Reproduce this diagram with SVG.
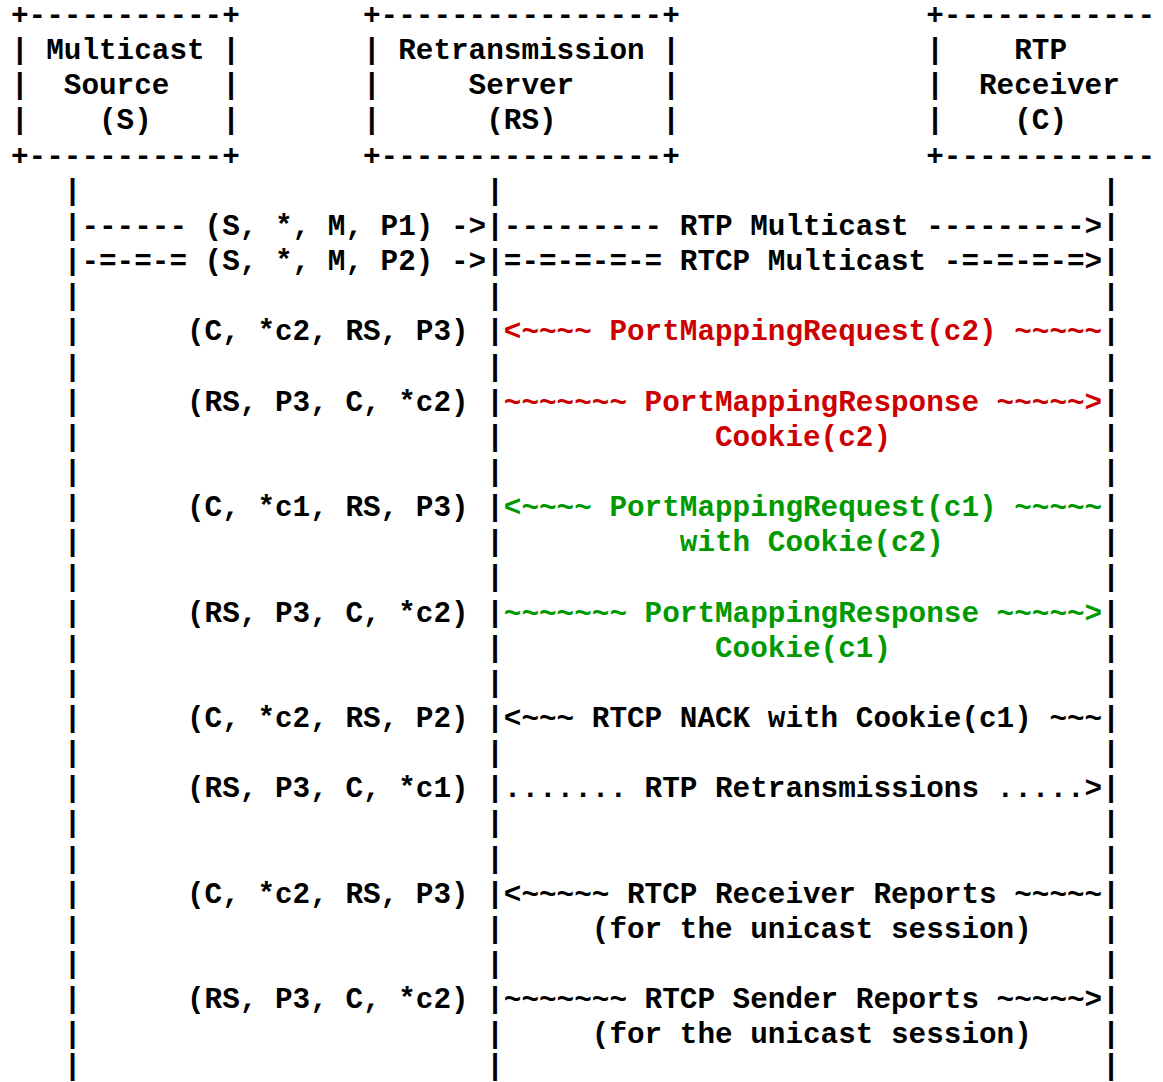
<svg xmlns="http://www.w3.org/2000/svg" width="1163" height="1082" viewBox="0 0 1163 1082">
<style>
text { font-family: "Liberation Mono", "Courier New", monospace; font-size: 29.33px; font-weight: bold; fill: #000; white-space: pre; }
.red { fill: #cc0000; }
.green { fill: #009900; }
</style>
<rect width="1163" height="1082" fill="#fff"/>
<g id="node-source">
<text x="11" y="24">+-----------+</text>
<text x="11" y="59.15">| Multicast |</text>
<text x="11" y="94.3">|  Source   |</text>
<text x="11" y="129.45">|    (S)    |</text>
<text x="11" y="164.6">+-----------+</text>
</g>
<g id="node-rs">
<text x="363" y="24">+----------------+</text>
<text x="363" y="59.15">| Retransmission |</text>
<text x="363" y="94.3">|     Server     |</text>
<text x="363" y="129.45">|      (RS)      |</text>
<text x="363" y="164.6">+----------------+</text>
</g>
<g id="node-receiver">
<text x="926.2" y="24">+------------</text>
<text x="926.2" y="59.15">|    RTP</text>
<text x="926.2" y="94.3">|  Receiver</text>
<text x="926.2" y="129.45">|    (C)</text>
<text x="926.2" y="164.6">+------------</text>
</g>
<g id="connectors">
<text x="63.8" y="199.75">|                       |                                  |</text>
<text x="63.8" y="234.9">|------ (S, *, M, P1) -&gt;|--------- RTP Multicast ---------&gt;|</text>
<text x="63.8" y="270.05">|-=-=-= (S, *, M, P2) -&gt;|=-=-=-=-= RTCP Multicast -=-=-=-=&gt;|</text>
<text x="63.8" y="305.2">|                       |                                  |</text>
<text x="63.8" y="340.35">|      (C, *c2, RS, P3) |<tspan class="red">&lt;~~~~ PortMappingRequest(c2) ~~~~~</tspan>|</text>
<text x="63.8" y="375.5">|                       |                                  |</text>
<text x="63.8" y="410.65">|      (RS, P3, C, *c2) |<tspan class="red">~~~~~~~ PortMappingResponse ~~~~~&gt;</tspan>|</text>
<text x="63.8" y="445.8">|                       |            <tspan class="red">Cookie(c2)</tspan>            |</text>
<text x="63.8" y="480.95">|                       |                                  |</text>
<text x="63.8" y="516.1">|      (C, *c1, RS, P3) |<tspan class="green">&lt;~~~~ PortMappingRequest(c1) ~~~~~</tspan>|</text>
<text x="63.8" y="551.25">|                       |          <tspan class="green">with Cookie(c2)</tspan>         |</text>
<text x="63.8" y="586.4">|                       |                                  |</text>
<text x="63.8" y="621.55">|      (RS, P3, C, *c2) |<tspan class="green">~~~~~~~ PortMappingResponse ~~~~~&gt;</tspan>|</text>
<text x="63.8" y="656.7">|                       |            <tspan class="green">Cookie(c1)</tspan>            |</text>
<text x="63.8" y="691.85">|                       |                                  |</text>
<text x="63.8" y="727">|      (C, *c2, RS, P2) |&lt;~~~ RTCP NACK with Cookie(c1) ~~~|</text>
<text x="63.8" y="762.15">|                       |                                  |</text>
<text x="63.8" y="797.3">|      (RS, P3, C, *c1) |....... RTP Retransmissions .....&gt;|</text>
<text x="63.8" y="832.45">|                       |                                  |</text>
<text x="63.8" y="867.6">|                       |                                  |</text>
<text x="63.8" y="902.75">|      (C, *c2, RS, P3) |&lt;~~~~~ RTCP Receiver Reports ~~~~~|</text>
<text x="63.8" y="937.9">|                       |     (for the unicast session)    |</text>
<text x="63.8" y="973.05">|                       |                                  |</text>
<text x="63.8" y="1008.2">|      (RS, P3, C, *c2) |~~~~~~~ RTCP Sender Reports ~~~~~&gt;|</text>
<text x="63.8" y="1043.35">|                       |     (for the unicast session)    |</text>
<text x="63.8" y="1075">|                       |                                  |</text>
</g>
</svg>
